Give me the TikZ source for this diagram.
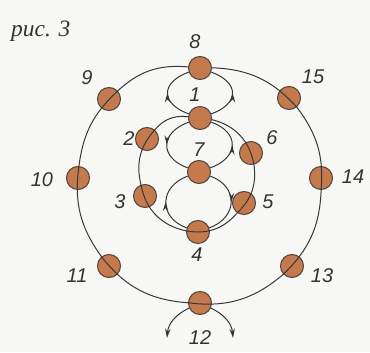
\documentclass[tikz,border=0pt]{standalone}
\usepackage{fontspec}
\setmainfont{Liberation Sans}
\newfontfamily\capfont{Liberation Serif}
\usetikzlibrary{arrows.meta, decorations.markings}

\definecolor{dotfill}{RGB}{196,122,76}
\definecolor{dotline}{RGB}{80,68,60}
\definecolor{wire}{RGB}{55,55,55}
\definecolor{paper}{RGB}{247,247,245}

\tikzset{
  dot/.style={circle, draw=dotline, fill=dotfill, line width=0.9pt, minimum size=6.9mm, inner sep=0pt},
  num/.style={font=\fontsize{17}{17}\selectfont\itshape, text=black!80, inner sep=0pt},
  wire/.style={draw=wire, line width=0.85pt},
  midarrow/.style={decoration={markings, mark=at position 0.5 with {\arrow{Stealth[length=2.8mm,width=1.6mm]}}}, postaction={decorate}}
}

\begin{document}
\begin{tikzpicture}[x=0.3mm, y=0.3mm]

    % Paper
    \fill[paper] (0,0) rectangle (370,352);

    % Caption
    \node[anchor=base west, inner sep=0pt, font=\capfont\fontsize{20}{20}\selectfont\itshape, text=black!80] (cap) at (11,316) {рис. 3};

    % Outer ring
    \node[dot] (8) at (200,284) {};
    \node[dot] (9) at (109,253) {};
    \node[dot] (10) at (78,174) {};
    \node[dot] (11) at (109,86) {};
    \node[dot] (12) at (200,49) {};
    \node[dot] (13) at (292,86) {};
    \node[dot] (14) at (321,174) {};
    \node[dot] (15) at (289,254) {};

    % Inner ring
    \node[dot] (1) at (200,234) {};
    \node[dot] (2) at (147,213) {};
    \node[dot] (3) at (145,156) {};
    \node[dot] (4) at (198,120) {};
    \node[dot] (5) at (244,149) {};
    \node[dot] (6) at (251,199) {};
    \node[dot] (7) at (199,180) {};

    \draw[wire] (8) to[bend right=24] (9) to[bend right=20] (10) to[bend right=22] (11)
        to[bend right=24] (12) to[bend right=24] (13) to[bend right=22] (14)
        to[bend right=21] (15) to[bend right=23] (8);

    \draw[wire] (1) to[bend right=28] (2) to[bend right=28] (3) to[bend right=34] (4)
        to[bend right=30] (5) to[bend right=27] (6) to[bend right=33] (1);

    % Loops with arrows
    \draw[wire, midarrow] (1) to[out=160, in=200, looseness=1.85] (8);
    \draw[wire, midarrow] (1) to[out=20, in=340, looseness=1.85] (8);
    \draw[wire, midarrow] (1) to[out=200, in=160, looseness=1.7] (7);
    \draw[wire, midarrow] (7) to[out=20, in=340, looseness=1.7] (1);
    \draw[wire, midarrow] (4) to[out=160, in=200, looseness=1.5] (7);
    \draw[wire, midarrow] (7) to[out=340, in=20, looseness=1.5] (4);

    % Exits below 12
    \coordinate (l12) at (167,14);
    \coordinate (r12) at (233,14);
    \draw[wire, -{Stealth[length=2.8mm,width=1.6mm]}] (12) to[out=205, in=85] (l12);
    \draw[wire, -{Stealth[length=2.8mm,width=1.6mm]}] (12) to[out=335, in=95] (r12);

    % Numbers
    \node[num] (n1) at (195,257) {1};
    \node[num] (n2) at (129,213) {2};
    \node[num] (n3) at (120,150) {3};
    \node[num] (n4) at (197,97) {4};
    \node[num] (n5) at (268,150) {5};
    \node[num] (n6) at (272,214) {6};
    \node[num] (n7) at (199,202) {7};
    \node[num] (n8) at (195,310) {8};
    \node[num] (n9) at (87,274) {9};
    \node[num] (n10) at (42,172) {10};
    \node[num] (n11) at (77,76) {11};
    \node[num] (n12) at (200,14) {12};
    \node[num] (n13) at (322,76) {13};
    \node[num] (n14) at (353,175) {14};
    \node[num] (n15) at (313,275) {15};

\end{tikzpicture}
\end{document}
